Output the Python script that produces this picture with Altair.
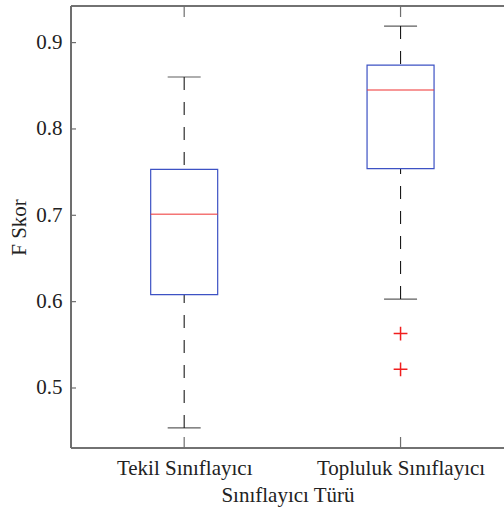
import altair as alt
import pandas as pd

# ---- data ----
categories = ["Tekil Sınıflayıcı", "Topluluk Sınıflayıcı"]
positions = [1, 2]
whisker_low = [0.4537, 0.603]
q1 = [0.6082, 0.754]
median = [0.7012, 0.8451]
q3 = [0.7533, 0.874]
whisker_high = [0.8602, 0.9192]
outlier_cat = [2, 2]
outlier_val = [0.563, 0.5216]
y_ticks = [0.5, 0.6, 0.7, 0.8, 0.9]

W, H = 433, 442
FONT = "Times New Roman, Liberation Serif, serif"
FRAME = "#6e6e6e"

box = pd.DataFrame({
    "cat": categories, "pos": positions, "lo": whisker_low, "q1": q1,
    "med": median, "q3": q3, "hi": whisker_high,
})
out = pd.DataFrame({"pos": outlier_cat, "val": outlier_val})
yt = pd.DataFrame({"v": y_ticks})

label_expr = "datum.value == 1 ? '%s' : (datum.value == 2 ? '%s' : '')" % (categories[0], categories[1])

xs = alt.Scale(domain=[0.5, 2.455], nice=False, zero=False)
ys = alt.Scale(domain=[0.4305, 0.9424], nice=False, zero=False)

x_enc = alt.X("pos:Q", scale=xs, title="Sınıflayıcı Türü",
              axis=alt.Axis(orient="bottom", values=positions, labelExpr=label_expr, ticks=False,
                            grid=False, domain=False,
                            labelFont=FONT, labelFontSize=21, labelColor="#222",
                            labelPadding=9, titleFont=FONT, titleFontSize=21,
                            titleFontWeight="normal", titleColor="#222", titlePadding=6))
y_axis = alt.Axis(orient="left", values=y_ticks, format=".1f", ticks=False, grid=False,
                  domain=False,
                  labelFont=FONT, labelFontSize=21, labelColor="#222", labelPadding=9,
                  titleFont=FONT, titleFontSize=21, titleFontWeight="normal",
                  titleColor="#222", titlePadding=6)


def X():
    return alt.X("pos:Q", scale=xs)


def Y(f):
    return alt.Y(f, scale=ys)


base = alt.Chart(box)

upper = base.mark_rule(color="#1a1a1a", strokeWidth=1.1, strokeDash=[13, 12]).encode(
    x=x_enc, y=alt.Y("hi:Q", scale=ys, title="F Skor", axis=y_axis), y2="q3:Q")
lower = base.mark_rule(color="#1a1a1a", strokeWidth=1.1, strokeDash=[13, 12]).encode(
    x=X(), y=Y("lo:Q"), y2="q1:Q")
cap_hi = base.mark_tick(color="#1a1a1a", size=33, thickness=1.2, orient="horizontal").encode(
    x=X(), y=Y("hi:Q"))
cap_lo = base.mark_tick(color="#1a1a1a", size=33, thickness=1.2, orient="horizontal").encode(
    x=X(), y=Y("lo:Q"))
boxes = base.mark_bar(size=67, fill="white", fillOpacity=0, stroke="#3d52c4", strokeWidth=1.2).encode(
    x=X(), y=Y("q1:Q"), y2="q3:Q")
med = base.mark_tick(color="#f03a3a", size=67, thickness=1.3, orient="horizontal").encode(
    x=X(), y=Y("med:Q"))
outl = alt.Chart(out).mark_point(shape="M-1,0H1M0,-1V1", size=190, color="#f01e1e",
                                 strokeWidth=1.5, filled=False, opacity=1).encode(
    x=X(), y=Y("val:Q"))

# inward ticks and frame (left, bottom, top)
xt_bot = base.mark_rule(color=FRAME, strokeWidth=1.2).encode(
    x=X(), y=alt.value(H), y2=alt.value(H - 11))
xt_top = base.mark_rule(color=FRAME, strokeWidth=1.2).encode(
    x=X(), y=alt.value(0), y2=alt.value(11))
ytk = alt.Chart(yt).mark_rule(color=FRAME, strokeWidth=1.2).encode(
    y=Y("v:Q"), x=alt.value(0), x2=alt.value(5))
top = alt.Chart(yt).mark_rule(color=FRAME, strokeWidth=1.2).encode(
    y=alt.value(0), x=alt.value(0), x2=alt.value(W))
bottom = alt.Chart(yt).mark_rule(color=FRAME, strokeWidth=1.2).encode(
    y=alt.value(H), x=alt.value(0), x2=alt.value(W))
left = alt.Chart(yt).mark_rule(color=FRAME, strokeWidth=1.2).encode(
    x=alt.value(0), y=alt.value(0), y2=alt.value(H))

chart = alt.layer(upper, lower, cap_hi, cap_lo, boxes, med, outl,
                  xt_bot, xt_top, ytk, top, bottom, left).properties(
    width=W, height=H,
    autosize=alt.AutoSizeParams(type="none"),
    padding={"left": 71, "top": 6, "right": 0, "bottom": 66},
    background="white",
).configure_view(stroke="transparent", strokeWidth=0)

chart.save("out.html", embed_options={"renderer": "svg", "actions": False})
